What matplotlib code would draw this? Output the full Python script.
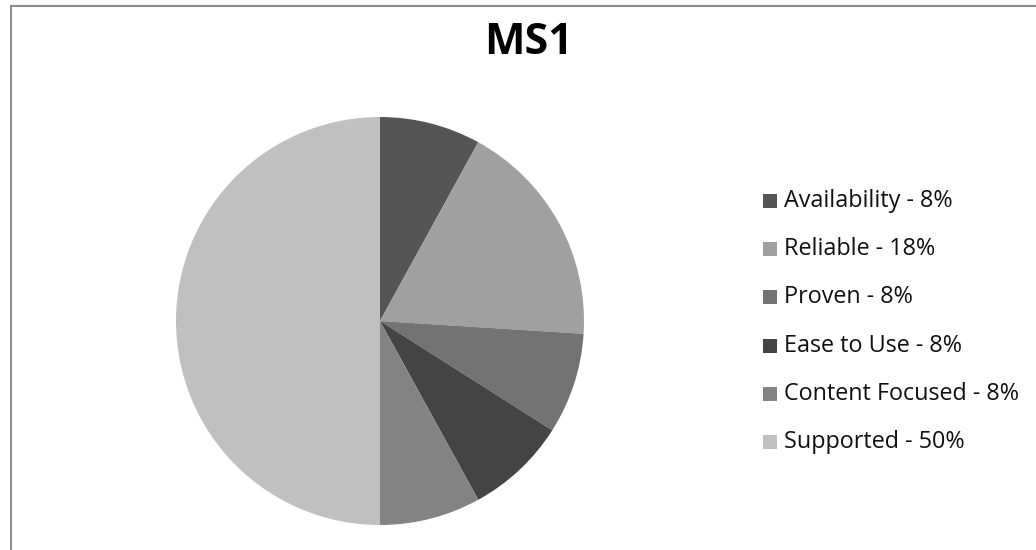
import matplotlib
matplotlib.use("Agg")
import matplotlib.pyplot as plt
from matplotlib.patches import Rectangle

title = "MS1"
categories = ["Availability", "Reliable", "Proven", "Ease to Use", "Content Focused", "Supported"]
shares = [8, 18, 8, 8, 8, 50]
colors = ["#555555", "#a0a0a0", "#737373", "#444444", "#838383", "#c0c0c0"]

W, H = 1036, 550
fig = plt.figure(figsize=(W / 100, H / 100), dpi=100)
fig.patch.set_facecolor("white")

# chart-area frame (runs off the right and bottom edges)
fig.add_artist(Rectangle((10.5 / W, -0.1), 1.2, (H - 5.5) / H + 0.1,
                         transform=fig.transFigure, fill=False,
                         edgecolor="#8c8c8c", linewidth=1.5))

fig.text(528 / W, 1 - 43 / H, title, ha="center", va="center",
         fontsize=31, fontweight="bold", family=["Open Sans", "DejaVu Sans"])

# pie
cx, cy, r = 380, 321, 204
ax = fig.add_axes([(cx - r) / W, (H - cy - r) / H, 2 * r / W, 2 * r / H])
ax.pie(shares, colors=colors, startangle=90, counterclock=False,
       wedgeprops=dict(linewidth=0))
ax.set_xlim(-1, 1)
ax.set_ylim(-1, 1)
ax.set_aspect("equal")
ax.axis("off")

# legend
y0, dy = 201, 48.2
for i, (name, val, col) in enumerate(zip(categories, shares, colors)):
    y = y0 + i * dy
    fig.add_artist(Rectangle((763 / W, 1 - (y + 7) / H), 14 / W, 14 / H,
                             transform=fig.transFigure, facecolor=col,
                             edgecolor="none"))
    fig.text(784 / W, 1 - y / H, f"{name} - {val}%", ha="left", va="center",
             fontsize=16.8, family=["Open Sans", "DejaVu Sans"], color="#111111")

fig.savefig("out.png", dpi=100, facecolor="white")
